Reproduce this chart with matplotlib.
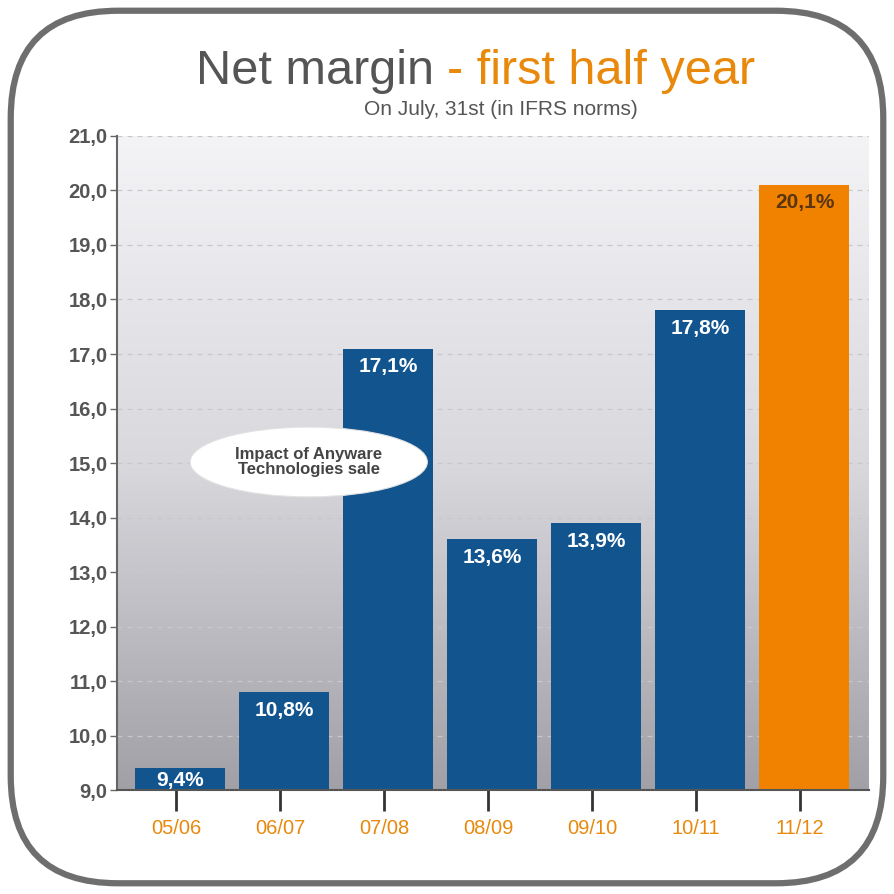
import numpy as np
import matplotlib.pyplot as plt
from matplotlib.patches import FancyBboxPatch, Ellipse
from matplotlib.colors import LinearSegmentedColormap

# --- Dane ---
periods = ["05/06", "06/07", "07/08", "08/09", "09/10", "10/11", "11/12"]
margins = [9.4, 10.8, 17.1, 13.6, 13.9, 17.8, 20.1]
labels = ["9,4%", "10,8%", "17,1%", "13,6%", "13,9%", "17,8%", "20,1%"]
yticks = [9, 10, 11, 12, 13, 14, 15, 16, 17, 18, 19, 20, 21]

plt.rcParams['font.family'] = ['Liberation Sans', 'DejaVu Sans']

blue = "#12558e"
orange = "#f08200"
grey_txt = "#555555"

fig = plt.figure(figsize=(8.94, 8.94), dpi=100)
fig.patch.set_facecolor("white")

ax = fig.add_axes([0.131, 0.116, 0.841, 0.732])
ax.set_facecolor("none")
x = np.arange(len(periods))
ax.set_xlim(-0.567, 6.66)
ax.set_ylim(9, 21)

# tlo z gradientem
grad = np.linspace(0, 1, 256).reshape(-1, 1)
cm = LinearSegmentedColormap.from_list("bg", ["#f4f4f7", "#d8d8dd", "#a0a0a6"])
ax.imshow(grad, extent=[-0.567, 6.66, 9, 21], origin="upper", aspect="auto",
          cmap=cm, zorder=0)

for yv in yticks[1:]:
    ax.axhline(yv, color="#c8c8cc", linestyle=(0, (4, 4)), linewidth=0.9, zorder=1)

colors = [blue] * 6 + [orange]
bars = ax.bar(x + 0.04, np.array(margins) - 9, bottom=9, width=0.865, color=colors,
              zorder=2, edgecolor="none")

for xi, m, lab, c in zip(x, margins, labels, colors):
    tc = "white" if c == blue else "#5a3510"
    off = min(0.33, (m - 9) / 2 + 0.02)
    ax.text(xi + 0.04, m - off, lab, ha="center", va="center", fontsize=15,
            fontweight="bold", color=tc, zorder=3)

# adnotacja
ell = Ellipse((1.275, 15.02), 2.28, 1.28, facecolor="white", edgecolor="#e2e2e2",
              linewidth=0.8, zorder=4)
ax.add_patch(ell)
ax.text(1.275, 15.02, "Impact of Anyware\nTechnologies sale", ha="center", va="center",
        fontsize=12, fontweight="bold", color="#444444", linespacing=1.0, zorder=5)

ax.set_yticks(yticks)
ax.set_yticklabels([f"{v},0" for v in yticks], fontsize=14.5, fontweight="bold",
                   color=grey_txt)
ax.set_xticks(x)
ax.set_xticklabels(periods, fontsize=14.5, color="#e8890c")
ax.tick_params(axis="x", length=15, width=2, color="#333333", pad=6)
ax.tick_params(axis="y", length=5, width=1, color="#666666", pad=2)

for s in ["top", "right"]:
    ax.spines[s].set_visible(False)
ax.spines["left"].set_color("#666666")
ax.spines["left"].set_linewidth(1.5)
ax.spines["bottom"].set_color("#555555")
ax.spines["bottom"].set_linewidth(1.5)

# ramka z zaokraglonymi rogami
frame = FancyBboxPatch((0.012, 0.012), 0.976, 0.976,
                       boxstyle="round,pad=0,rounding_size=0.12",
                       transform=fig.transFigure, facecolor="none",
                       edgecolor="#6e6e6e", linewidth=4.5, zorder=10)
fig.patches.append(frame)

# tytul
fig.text(0.5, 0.92, "Net margin ", ha="right", va="center", fontsize=35, color="#555555")
fig.text(0.5, 0.92, "- first half year", ha="left", va="center", fontsize=35, color="#e8890c")
fig.text(0.56, 0.877, "On July, 31st (in IFRS norms)", ha="center", va="center",
         fontsize=15, color="#555555")

fig.savefig("out.png", dpi=100)
